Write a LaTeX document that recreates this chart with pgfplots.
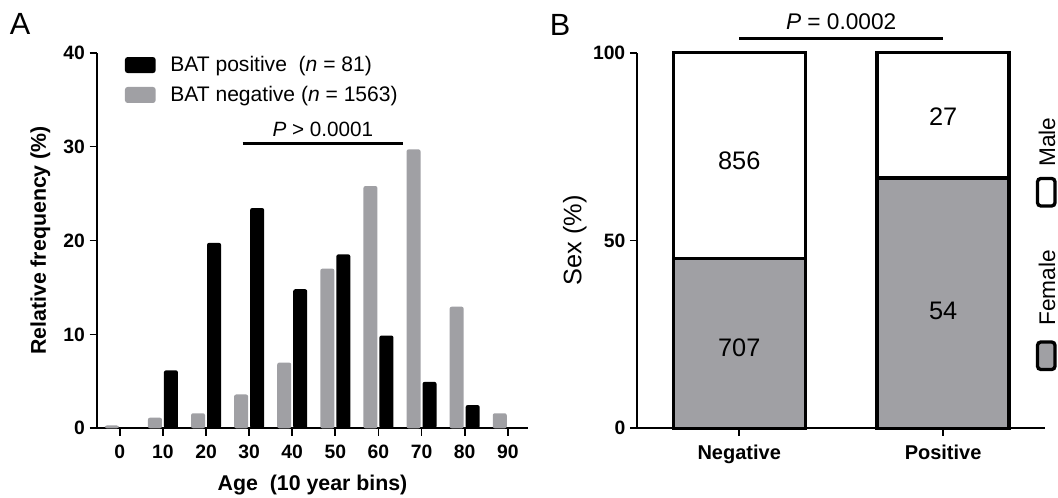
\documentclass[border=0pt]{standalone}
\usepackage{pgfplots}
\pgfplotsset{compat=1.18}
\usepackage{fontspec}
\setmainfont{Liberation Sans}
\definecolor{barGray}{RGB}{160,160,164}

\pgfplotsset{
  prism/.style={
    scale only axis,
    axis lines=left,
    axis line style={line width=1.6pt, -},
    every tick/.style={line width=1.3pt, black},
    tick align=outside,
    major tick length=5.5pt,
    /pgf/number format/assume math mode=true,
    ticklabel style={font=\fontsize{14.5}{16}\selectfont\bfseries},
    xticklabel style={yshift=-3.5pt},
    clip=false,
  }
}

\begin{document}
\begin{tikzpicture}[x=0.75pt,y=-0.75pt]
\path[use as bounding box] (0,0) rectangle (1058,498);

% panel A
\begin{axis}[prism,
  at={(72.75pt,-321.225pt)}, anchor=south west,
  width=323.25pt, height=281.7pt,
  xmin=-5.3, xmax=94.7, ymin=0, ymax=40,
  xtick={0,10,...,90}, ytick={0,10,20,30,40},
  ybar, bar width=10.5pt,
  xlabel={Age\ \ (10 year bins)},
  ylabel={Relative frequency (\%)},
  label style={font=\fontsize{16}{18}\selectfont\bfseries},
  xlabel style={yshift=-5pt},
  ylabel style={yshift=3pt},
  legend style={draw=none, fill=none, at={(0.055,1.005)}, anchor=north west,
    font=\fontsize{15.8}{17}\selectfont, row sep=5.5pt,
    /tikz/every odd column/.append style={column sep=9pt}},
  legend cell align=left,
  legend image code/.code={\fill[#1, draw=none, rounded corners=2pt] (0pt,-6pt) rectangle (23pt,6pt);},
]
\addplot[fill=black, draw=none, bar shift=6pt, rounded corners=1.5pt]
  coordinates {(10,6.17) (20,19.75) (30,23.46) (40,14.81) (50,18.52) (60,9.88) (70,4.94) (80,2.47)};
\addplot[fill=barGray, draw=none, bar shift=-6pt, rounded corners=1.5pt]
  coordinates {(0,0.3) (10,1.13) (20,1.6) (30,3.6) (40,7.0) (50,17.0) (60,25.8) (70,29.7) (80,12.95) (90,1.6)};
\legend{BAT positive\ \ (\textit{n} = 81), BAT negative (\textit{n} = 1563)}
\draw[line width=2.5pt] (axis cs:28.5,30.3) -- (axis cs:65.7,30.3)
  node[midway, above=1pt, font=\fontsize{15.5}{17}\selectfont] {\textit{P} > 0.0001};
\end{axis}

% panel B
\begin{axis}[prism,
  at={(477.975pt,-321.225pt)}, anchor=south west,
  width=305.8pt, height=281.7pt,
  xmin=-0.5, xmax=1.5, ymin=0, ymax=100,
  xtick={0,1}, xticklabels={Negative,Positive},
  xticklabel style={font=\fontsize{15}{17}\selectfont\bfseries},
  ytick={0,50,100},
  ybar stacked, bar width=99pt,
  ylabel={Sex (\%)},
  ylabel style={font=\fontsize{19}{21}\selectfont, yshift=-2pt},
]
\addplot[fill=barGray, draw=black, line width=2.5pt] coordinates {(0,45.23) (1,66.67)};
\addplot[fill=white, draw=black, line width=2.5pt] coordinates {(0,54.77) (1,33.33)};
\coordinate (n856) at (axis cs:0,71.2);
\coordinate (n707) at (axis cs:0,21.4);
\coordinate (n27) at (axis cs:1,83.1);
\coordinate (n54) at (axis cs:1,31.2);
\draw[line width=2.5pt] (axis cs:0,103.7) -- (axis cs:1,103.7)
  node[midway, above=2pt, font=\fontsize{17}{19}\selectfont] {\textit{P} = 0.0002};
\end{axis}

% counts written inside the stacked bars
\begin{scope}[every node/.style={font=\fontsize{19}{21}\selectfont}]
\node at (n856) {856};
\node at (n707) {707};
\node at (n27) {27};
\node at (n54) {54};
\end{scope}

% legend of panel B, set upright along the right edge
\draw[line width=2.5pt, rounded corners=2.5pt, fill=white] (1037.5,178.5) rectangle (1055,206);
\draw[line width=2.5pt, rounded corners=2.5pt, fill=barGray] (1037.5,342) rectangle (1055,369.5);
\node[rotate=90, font=\fontsize{17}{19}\selectfont] at (1047,142) {Male};
\node[rotate=90, font=\fontsize{17}{19}\selectfont] at (1047,288) {Female};

% panel letters
\node[font=\fontsize{23}{25}\selectfont] at (20,24) {A};
\node[font=\fontsize{23}{25}\selectfont] at (560,25) {B};
\end{tikzpicture}
\end{document}
